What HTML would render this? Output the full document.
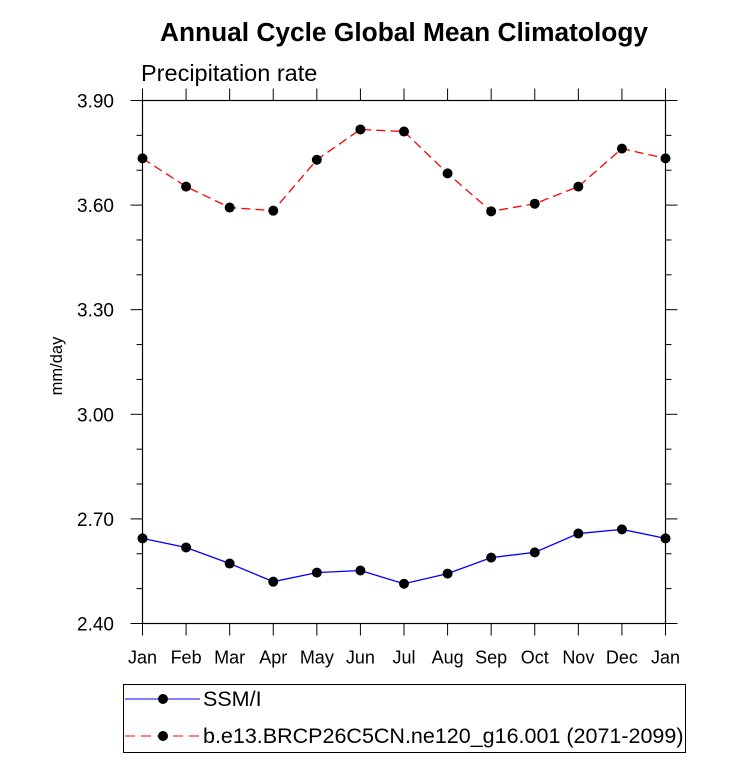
<!DOCTYPE html>
<html><head><style>body{margin:0;background:#fff}svg{font-family:"Liberation Sans",Arial,sans-serif}</style></head>
<body>
<svg id="c" width="733" height="759">
<text x="404" y="41" text-anchor="middle" font-size="26.3" font-weight="bold">Annual Cycle Global Mean Climatology</text>
<text x="141" y="81" font-size="23.5">Precipitation rate</text>
<text transform="translate(62,366) rotate(-90)" text-anchor="middle" font-size="16.5">mm/day</text>
<g id="axes"></g><g id="marks"></g>
<rect x="123.5" y="684.5" width="562" height="68" fill="none" stroke="#000"/>
<line x1="125" y1="699" x2="200" y2="699" stroke="#00f"/>
<circle cx="163" cy="699" r="5"/>
<text x="203" y="706" font-size="21.5">SSM/I</text>
<line x1="125" y1="736" x2="200" y2="736" stroke="#f00" stroke-dasharray="10,6"/>
<circle cx="163" cy="736" r="5"/>
<text x="203" y="743" font-size="21.5">b.e13.BRCP26C5CN.ne120_g16.001 (2071-2099)</text>
</svg>
<script>
const months=["Jan","Feb","Mar","Apr","May","Jun","Jul","Aug","Sep","Oct","Nov","Dec","Jan"];
const ssmi=[2.644,2.618,2.572,2.520,2.546,2.552,2.514,2.543,2.589,2.604,2.658,2.670,2.644];
const model=[3.734,3.653,3.593,3.584,3.730,3.817,3.811,3.691,3.582,3.604,3.653,3.762,3.734];
const yTicks=["2.40","2.70","3.00","3.30","3.60","3.90"];
const X0=142.5,X1=665.5,Y0=623.5,Y1=100.5,ymin=2.4,ymax=3.9;
const xs=i=>X0+(X1-X0)*i/(months.length-1);
const ys=v=>Y0-(Y0-Y1)*(v-ymin)/(ymax-ymin);
const NS="http://www.w3.org/2000/svg";
function mk(p,t,a){const e=document.createElementNS(NS,t);for(const k in a)e.setAttribute(k,a[k]);p.appendChild(e);return e;}
const ax=document.getElementById('axes'),mg=document.getElementById('marks');
const fr=mk(ax,'rect',{x:X0,y:Y1,width:X1-X0,height:Y0-Y1,fill:'none',stroke:'#000','stroke-width':1.2});


months.forEach((m,i)=>{const x=xs(i);
 mk(ax,'line',{x1:x,x2:x,y1:Y0,y2:Y0+12,stroke:'#000'});
 mk(ax,'line',{x1:x,x2:x,y1:Y1,y2:Y1-12,stroke:'#000'});
 const t=mk(ax,'text',{x:x,y:Y0+40,'text-anchor':'middle','font-size':18});t.textContent=m;
 
 });
for(let v=ymin;v<=ymax+1e-6;v+=0.1){const y=ys(v);const maj=Math.abs(((v-ymin)/0.3)-Math.round((v-ymin)/0.3))<1e-6;const L=maj?12:6;
 mk(ax,'line',{x1:X0-L,x2:X0,y1:y,y2:y,stroke:'#000'});mk(ax,'line',{x1:X1,x2:X1+L,y1:y,y2:y,stroke:'#000'});}
yTicks.forEach(s=>{const t=mk(ax,'text',{x:114,y:ys(+s)+7,'text-anchor':'end','font-size':19});t.textContent=s;
 
 });
function series(d,col,dash,name){
 const p=mk(mg,'polyline',{points:d.map((v,i)=>xs(i)+','+ys(v)).join(' '),fill:'none',stroke:col,'stroke-width':1.3,'stroke-dasharray':dash});
 
 
 d.forEach((v,i)=>{const c=mk(mg,'circle',{cx:xs(i),cy:ys(v),r:5});
  
  });
}
series(ssmi,'#00f','none','ssmi');
series(model,'#f00','9,5','model');
</script>
</body></html>
